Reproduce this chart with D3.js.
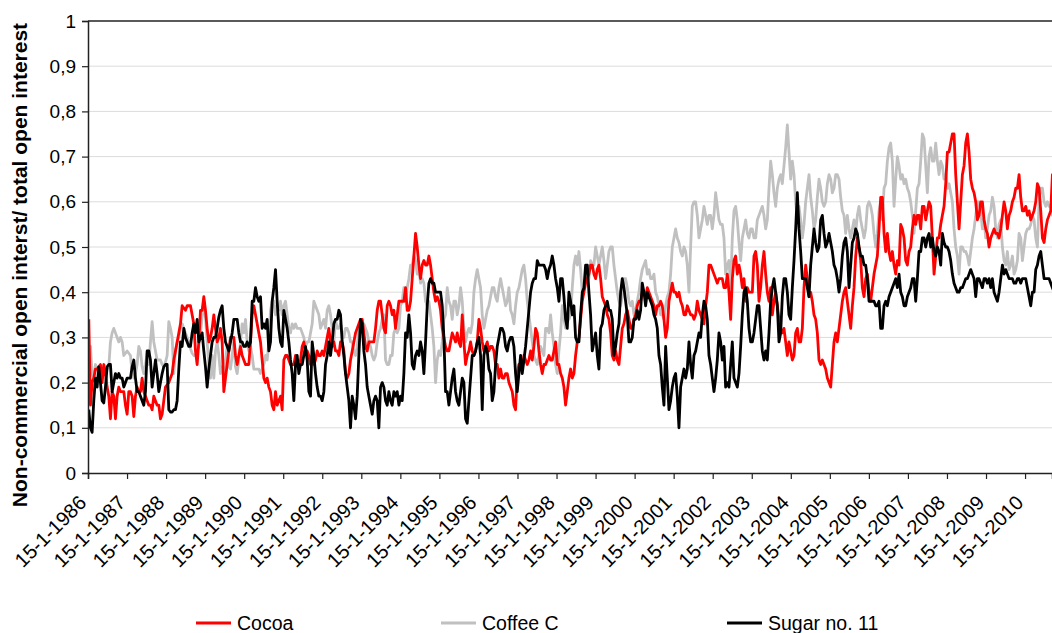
<!DOCTYPE html>
<html>
<head>
<meta charset="utf-8">
<script src="https://cdn.jsdelivr.net/npm/d3@7"></script>
<style>
  body { margin: 0; background: #fff; }
  svg text { font-family: Arial, "Liberation Sans", sans-serif; fill: #000; }
</style>
</head>
<body>
<svg id="chart" width="1052" height="633"></svg>
<script>
// years shown on the x axis (ticks sit on 15 January)
const tickYears = d3.range(1986, 2011);
const yTicks = [0, 0.1, 0.2, 0.3, 0.4, 0.5, 0.6, 0.7, 0.8, 0.9, 1];

// readings are roughly every two weeks, first one mid-Jan 1986
const sampleStart = 1986.02;
const sampleStep = 0.0427; // years between readings

const seriesNames = ["Cocoa", "Coffee C", "Sugar no. 11"];

const cocoa = [
  .34,.15,.20,.21,.23,.23,.235,.24,.20,.24, .22,.19,.17,.12,.18,.17,.12,.17,.19,.18,
  .18,.18,.15,.13,.18,.18,.17,.125,.17,.19, .18,.18,.21,.18,.17,.16,.15,.15,.14,.17,
  .16,.15,.15,.12,.13,.16,.19,.195,.20,.21, .22,.25,.27,.29,.31,.33,.37,.365,.36,.37,
  .37,.37,.35,.33,.27,.24,.29,.36,.36,.39, .36,.32,.29,.30,.32,.35,.32,.29,.30,.32,
  .29,.18,.21,.24,.27,.30,.30,.30,.26,.24, .26,.28,
  // 1990-1994
  .26,.25,.24,.24,.24,.29,.35,.37,.35,.33, .31,.29,.25,.21,.20,.21,.19,.18,.15,.14,
  .18,.15,.16,.17,.14,.25,.26,.26,.25,.24, .24,.24,.26,.25,.24,.25,.28,.29,.27,.27,
  .26,.24,.26,.24,.25,.27,.26,.26,.27,.26, .28,.30,.32,.29,.28,.29,.27,.27,.26,.29,
  .29,.27,.22,.21,.22,.25,.27,.29,.31,.32, .33,.34,.34,.31,.28,.27,.29,.29,.29,.29,
  .32,.36,.38,.38,.35,.32,.31,.37,.38,.37, .35,.36,.32,.35,.38,.38,
  // 1994-1998
  .38,.38,.41,.36,.36,.38,.43,.48,.53,.50, .46,.43,.46,.47,.46,.46,.48,.46,.43,.40,
  .38,.39,.38,.36,.32,.30,.28,.27,.27,.29, .31,.30,.29,.31,.29,.28,.35,.29,.24,.26,
  .27,.29,.27,.26,.27,.29,.34,.32,.29,.27, .28,.29,.27,.28,.28,.27,.24,.24,.21,.23,
  .21,.21,.22,.22,.20,.19,.18,.15,.14,.22, .24,.24,.23,.26,.25,.24,.25,.27,.25,.28,
  .32,.31,.27,.24,.22,.24,.24,.25,.26,.25, .25,.27,.29,.24,.24,.22,
  // 1998-2002
  .21,.19,.15,.18,.21,.23,.21,.22,.26,.29, .30,.34,.38,.40,.42,.43,.44,.46,.46,.44,
  .43,.45,.46,.43,.39,.38,.37,.35,.34,.31, .26,.25,.27,.25,.24,.28,.32,.33,.35,.36,
  .34,.32,.32,.34,.35,.37,.38,.38,.40,.40, .39,.41,.40,.39,.38,.37,.35,.37,.37,.38,
  .37,.34,.30,.32,.38,.40,.42,.40,.40,.39, .40,.38,.37,.35,.35,.37,.36,.35,.35,.34,
  .35,.38,.36,.35,.34,.33,.37,.40,.46,.46, .45,.44,.43,.42,.43,.43,
  // 2002-2006
  .43,.41,.41,.44,.40,.34,.43,.47,.48,.44, .46,.44,.41,.43,.38,.41,.40,.40,.40,.48,
  .49,.46,.38,.41,.46,.49,.44,.40,.38,.41, .35,.38,.40,.37,.34,.32,.31,.32,.29,.26,
  .29,.27,.25,.26,.31,.32,.29,.29,.32,.41, .46,.43,.39,.40,.38,.35,.34,.31,.25,.24,
  .25,.24,.23,.21,.20,.19,.24,.29,.31,.29, .32,.35,.38,.40,.41,.38,.35,.32,.37,.41,
  .48,.52,.50,.47,.41,.39,.43,.44,.40,.38, .41,.44,.46,.48,.54,.61,
  // 2006-2010
  .61,.53,.49,.53,.49,.47,.49,.46,.44,.47, .46,.55,.54,.52,.47,.46,.49,.50,.54,.57,
  .55,.57,.57,.54,.59,.59,.56,.58,.60,.59, .52,.44,.48,.52,.52,.55,.57,.59,.64,.71,
  .71,.73,.75,.75,.66,.60,.54,.60,.66,.68, .73,.75,.71,.65,.63,.62,.60,.56,.57,.60,
  .60,.56,.54,.53,.50,.52,.53,.54,.53,.53, .52,.54,.57,.60,.58,.54,.57,.58,.60,.61,
  .63,.63,.66,.61,.58,.58,.59,.57,.58,.56, .57,.58,.60,.64,.63,.58,.52,.51,.54,.56,
  .57,.58,.66,.66
];

const coffee = [
  .22,.28,.22,.21,.24,.23,.22,.23,.235,.23, .22,.23,.235,.29,.31,.32,.31,.30,.29,.30,
  .29,.26,.265,.27,.265,.26,.22,.21,.22,.24, .28,.27,.235,.22,.24,.265,.24,.29,.335,.29,
  .27,.25,.25,.25,.24,.235,.245,.26,.335,.32, .30,.22,.27,.29,.30,.32,.33,.32,.31,.30,
  .29,.275,.265,.26,.26,.27,.28,.31,.345,.38, .345,.29,.24,.21,.26,.21,.27,.29,.26,.22,
  .235,.22,.25,.28,.235,.23,.26,.29,.235,.22, .25,.29,
  // 1990-1994
  .33,.31,.34,.29,.27,.28,.26,.23,.23,.23, .23,.22,.23,.24,.26,.25,.29,.36,.38,.38,
  .35,.37,.36,.38,.35,.37,.38,.35,.32,.31, .33,.32,.33,.32,.32,.32,.31,.30,.28,.29,
  .29,.31,.33,.38,.37,.36,.35,.32,.33,.34, .32,.36,.37,.35,.32,.29,.34,.32,.32,.33,
  .31,.30,.32,.32,.31,.29,.29,.27,.26,.28, .32,.31,.32,.33,.32,.31,.29,.28,.26,.25,
  .26,.29,.31,.32,.34,.35,.25,.24,.24,.26, .26,.31,.32,.31,.32,.37,
  // 1994-1998
  .38,.41,.38,.41,.43,.46,.46,.48,.47,.44, .45,.42,.43,.42,.38,.37,.38,.35,.32,.28,
  .20,.25,.27,.26,.29,.34,.35,.41,.38,.37, .34,.38,.38,.35,.37,.41,.38,.32,.29,.31,
  .32,.31,.33,.40,.43,.45,.43,.41,.35,.32, .34,.36,.37,.39,.41,.41,.39,.38,.41,.43,
  .41,.39,.37,.38,.41,.36,.35,.33,.37,.40, .41,.43,.45,.46,.43,.38,.35,.32,.29,.26,
  .25,.24,.26,.28,.27,.26,.32,.32,.31,.35, .31,.28,.24,.22,.27,.31,
  // 1998-2002
  .37,.34,.32,.35,.34,.35,.41,.46,.48,.46, .49,.45,.40,.41,.43,.46,.43,.47,.46,.46,
  .50,.48,.46,.48,.50,.47,.43,.46,.49,.50, .50,.46,.43,.40,.38,.37,.39,.43,.43,.41,
  .38,.37,.38,.35,.36,.38,.40,.43,.45,.46, .47,.44,.45,.43,.43,.44,.40,.39,.37,.35,
  .35,.34,.37,.39,.40,.44,.50,.52,.54,.52, .51,.49,.48,.50,.49,.46,.40,.50,.59,.60,
  .60,.57,.52,.54,.56,.59,.57,.55,.57,.57, .54,.57,.62,.59,.56,.55,
  // 2002-2006
  .55,.52,.44,.46,.47,.41,.52,.58,.59,.56, .51,.47,.52,.54,.56,.53,.52,.54,.54,.52,
  .52,.56,.57,.58,.59,.57,.54,.56,.63,.69, .66,.62,.59,.63,.65,.66,.64,.68,.72,.77,
  .71,.65,.69,.66,.60,.56,.59,.56,.52,.55, .60,.63,.66,.61,.58,.54,.56,.61,.65,.63,
  .60,.59,.60,.64,.66,.65,.62,.63,.66,.66, .65,.61,.58,.57,.53,.57,.54,.52,.54,.56,
  .53,.57,.59,.56,.54,.52,.54,.59,.60,.59, .57,.53,.50,.53,.58,.60,
  // 2006-2010
  .56,.63,.64,.69,.72,.73,.69,.59,.65,.70, .68,.65,.66,.64,.65,.63,.62,.60,.57,.53,
  .58,.63,.64,.69,.75,.74,.68,.62,.70,.72, .69,.69,.73,.69,.66,.69,.68,.65,.66,.63,
  .64,.62,.60,.54,.50,.48,.44,.50,.50,.49, .49,.48,.46,.49,.52,.54,.57,.60,.60,.58,
  .54,.56,.52,.54,.57,.58,.61,.59,.54,.52, .55,.56,.50,.47,.46,.49,.45,.46,.48,.44,
  .45,.47,.53,.52,.47,.50,.53,.54,.54,.55, .57,.56,.52,.50,.60,.63,.63,.60,.59,.60,
  .59,.59,.57,.59
];

const sugar = [
  .14,.10,.09,.16,.21,.19,.235,.20,.16,.155, .19,.235,.24,.24,.18,.20,.22,.21,.22,.21,
  .21,.19,.20,.21,.21,.21,.235,.25,.21,.18, .18,.17,.16,.15,.18,.27,.27,.25,.19,.22,
  .25,.22,.18,.20,.22,.235,.24,.24,.14,.135, .135,.14,.14,.16,.23,.29,.28,.32,.30,.29,
  .28,.28,.31,.33,.31,.34,.29,.30,.31,.27, .235,.19,.23,.26,.29,.30,.30,.32,.345,.36,
  .37,.32,.29,.28,.27,.29,.31,.34,.34,.34, .31,.29,
  // 1990-1994
  .29,.28,.28,.29,.28,.29,.38,.38,.41,.39, .38,.39,.32,.33,.32,.34,.27,.29,.38,.41,
  .45,.38,.32,.29,.28,.36,.34,.32,.29,.25, .22,.16,.24,.26,.22,.24,.24,.26,.28,.25,
  .18,.17,.29,.26,.22,.19,.17,.17,.16,.18, .24,.26,.29,.26,.29,.33,.34,.34,.36,.35,
  .29,.26,.22,.19,.16,.10,.17,.15,.12,.17, .26,.34,.33,.27,.24,.19,.17,.15,.13,.16,
  .17,.16,.10,.19,.20,.19,.16,.15,.18,.16, .15,.18,.17,.18,.15,.17,
  // 1994-1998
  .16,.22,.31,.30,.35,.31,.24,.23,.26,.27, .26,.29,.27,.22,.29,.37,.42,.43,.42,.42,
  .40,.40,.40,.40,.37,.30,.18,.18,.15,.18, .21,.23,.18,.16,.15,.18,.21,.20,.12,.11,
  .16,.21,.26,.26,.27,.29,.30,.26,.14,.26, .28,.27,.23,.22,.16,.18,.24,.28,.30,.32,
  .32,.31,.28,.27,.29,.30,.30,.28,.22,.18, .22,.26,.22,.25,.28,.32,.36,.40,.42,.43,
  .43,.47,.46,.46,.46,.46,.45,.43,.45,.46, .48,.46,.43,.41,.38,.43,
  // 1998-2002
  .43,.39,.34,.32,.40,.38,.35,.37,.30,.29, .29,.35,.40,.41,.46,.46,.40,.35,.27,.29,
  .31,.26,.23,.32,.33,.36,.37,.38,.36,.36, .34,.26,.28,.31,.33,.40,.43,.41,.38,.35,
  .29,.29,.30,.34,.34,.36,.34,.36,.42,.40, .37,.40,.39,.38,.37,.35,.34,.32,.26,.24,
  .19,.15,.28,.21,.14,.16,.19,.21,.22,.17, .10,.19,.21,.23,.21,.23,.29,.24,.21,.26,
  .27,.29,.31,.30,.35,.38,.37,.34,.26,.24, .21,.18,.21,.25,.31,.29,
  // 2002-2006
  .25,.28,.19,.20,.19,.24,.29,.21,.20,.19, .22,.28,.35,.40,.41,.38,.32,.29,.29,.31,
  .34,.37,.37,.32,.27,.25,.27,.25,.31,.38, .41,.43,.40,.37,.29,.31,.39,.43,.43,.40,
  .35,.34,.41,.47,.54,.62,.54,.49,.43,.43, .43,.41,.39,.46,.50,.54,.51,.49,.50,.56,
  .57,.53,.50,.51,.53,.51,.49,.46,.45,.43, .40,.43,.48,.51,.52,.49,.41,.46,.51,.52,
  .54,.53,.50,.48,.48,.46,.46,.43,.38,.38, .38,.38,.37,.37,.38,.32,
  // 2006-2010
  .32,.37,.38,.37,.39,.40,.41,.42,.43,.41, .44,.40,.39,.37,.37,.39,.40,.41,.43,.43,
  .38,.43,.49,.49,.52,.52,.50,.52,.53,.50, .52,.49,.48,.50,.49,.46,.53,.51,.50,.50,
  .49,.47,.44,.42,.41,.40,.40,.41,.41,.42, .43,.43,.44,.45,.44,.43,.39,.43,.43,.42,
  .41,.43,.43,.42,.43,.41,.43,.40,.39,.38, .40,.43,.46,.44,.45,.44,.43,.43,.43,.42,
  .42,.43,.43,.42,.43,.43,.43,.41,.39,.37, .40,.40,.45,.46,.48,.49,.46,.43,.43,.43,
  .43,.42,.41,.40
];

const seriesColors = ["#ff0000", "#c0c0c0", "#000000"];

const svg = d3.select("#chart");

const x = d3.scaleLinear().domain([1986, 2010.69]).range([88, 1052]);
const y = d3.scaleLinear().domain([0, 1]).range([473, 21]);

// gridlines
svg.append("g")
  .selectAll("line")
  .data(yTicks.filter(d => d > 0 && d < 1))
  .enter().append("line")
  .attr("x1", x.range()[0]).attr("x2", x.range()[1])
  .attr("y1", d => y(d)).attr("y2", d => y(d))
  .attr("stroke", "#dcdcdc").attr("stroke-width", 1);

// top border of plot area
svg.append("line")
  .attr("x1", x.range()[0]).attr("x2", x.range()[1])
  .attr("y1", y(1)).attr("y2", y(1))
  .attr("stroke", "#222").attr("stroke-width", 1.5);

svg.append("clipPath").attr("id", "plotClip")
  .append("rect")
  .attr("x", x.range()[0]).attr("y", y(1))
  .attr("width", x.range()[1] - x.range()[0]).attr("height", y(0) - y(1));

const line = d3.line()
  .x((d, i) => x(sampleStart + i * sampleStep))
  .y(d => y(d));

// grey below red, black on top
const drawOrder = [1, 0, 2];
const allSeries = [cocoa, coffee, sugar];
const plot = svg.append("g").attr("clip-path", "url(#plotClip)");
drawOrder.forEach(k => {
  plot.append("path")
    .datum(allSeries[k])
    .attr("fill", "none")
    .attr("stroke", seriesColors[k])
    .attr("stroke-width", 2.8)
    .attr("stroke-linejoin", "round")
    .attr("d", line);
});

// y axis
const yAxis = svg.append("g")
  .attr("transform", `translate(${x.range()[0]},0)`)
  .call(d3.axisLeft(y).tickValues(yTicks).tickSize(6).tickPadding(6)
    .tickFormat(d => d === 0 || d === 1 ? String(d) : d.toFixed(1).replace(".", ",")));
yAxis.select(".domain").attr("stroke", "#222").attr("stroke-width", 1.5);
yAxis.selectAll(".tick line").attr("stroke", "#222").attr("stroke-width", 1.2);
yAxis.selectAll(".tick text").attr("font-size", 19).attr("fill", "#000");

// x axis
const xAxis = svg.append("g")
  .attr("transform", `translate(0,${y(0)})`)
  .call(d3.axisBottom(x).tickValues(tickYears).tickSize(6).tickFormat(d => "15-1-" + d));
xAxis.select(".domain").attr("stroke", "#222").attr("stroke-width", 1.5);
xAxis.selectAll(".tick line").attr("stroke", "#222").attr("stroke-width", 1.2);
xAxis.selectAll(".tick text")
  .attr("font-size", 20)
  .attr("fill", "#000")
  .attr("text-anchor", "end")
  .attr("x", 0).attr("y", 0).attr("dy", 0)
  .attr("transform", "translate(-1,31) rotate(-45)");

// y axis title
svg.append("text")
  .attr("transform", "translate(27,265) rotate(-90)")
  .attr("text-anchor", "middle")
  .attr("font-size", 21)
  .attr("font-weight", "bold")
  .text("Non-commercial open interst/ total open interest");

// legend
const legendX = [196, 441, 727];
const legend = svg.append("g");
seriesNames.forEach((name, k) => {
  legend.append("line")
    .attr("x1", legendX[k]).attr("x2", legendX[k] + 35)
    .attr("y1", 623).attr("y2", 623)
    .attr("stroke", seriesColors[k]).attr("stroke-width", 3);
  legend.append("text")
    .attr("x", legendX[k] + 41).attr("y", 630)
    .attr("font-size", 19.5)
    .text(name);
});
</script>
</body>
</html>
